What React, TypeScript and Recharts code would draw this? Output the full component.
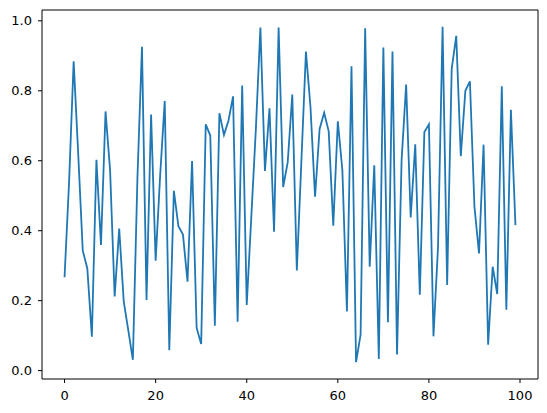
// Random line series (matplotlib default look) redrawn with Recharts
import { Line, LineChart, ReferenceLine, XAxis, YAxis } from "recharts";

const BLUE = "#1f77b4"; // matplotlib tab:blue
const INK = "#000000";
const FONT = "DejaVu Sans";

const values: number[] = [
  0.267, 0.54, 0.884, 0.62, 0.343, 0.292, 0.097, 0.603, 0.359, 0.741,
  0.573, 0.212, 0.406, 0.197, 0.115, 0.031, 0.55, 0.926, 0.202, 0.732,
  0.314, 0.56, 0.771, 0.058, 0.514, 0.413, 0.389, 0.254, 0.599, 0.122,
  0.076, 0.704, 0.672, 0.128, 0.736, 0.674, 0.715, 0.784, 0.14, 0.815,
  0.188, 0.438, 0.689, 0.981, 0.571, 0.75, 0.397, 0.981, 0.525, 0.596,
  0.789, 0.286, 0.599, 0.912, 0.753, 0.497, 0.691, 0.737, 0.684, 0.414,
  0.713, 0.573, 0.169, 0.87, 0.024, 0.103, 0.979, 0.297, 0.587, 0.033,
  0.924, 0.138, 0.912, 0.046, 0.601, 0.818, 0.438, 0.647, 0.217, 0.682,
  0.704, 0.098, 0.354, 0.983, 0.245, 0.862, 0.957, 0.613, 0.8, 0.827,
  0.468, 0.335, 0.646, 0.074, 0.297, 0.219, 0.813, 0.174, 0.746, 0.416,
];
const indices: number[] = values.map((_, i) => i);

const xTicks = [0, 20, 40, 60, 80, 100];
const yTicks = [0, 0.2, 0.4, 0.6, 0.8, 1.0];

// matplotlib-style 5% margins around the data
function padded(lo: number, hi: number): [number, number] {
  const r = hi - lo;
  return [lo - 0.05 * r, hi + 0.05 * r];
}
const xDomain = padded(Math.min(...indices), Math.max(...indices));
const yDomain = padded(Math.min(...values), Math.max(...values));

const data = indices.map((x, i) => ({ x, y: values[i] }));

const tickStyle = { fill: INK, fontSize: 13, fontFamily: FONT };
const axisLine = { stroke: INK, strokeWidth: 1 };

export default function App() {
  return (
    <div style={{ position: "absolute", left: 0, top: 0, background: "#fff" }}>
      <LineChart
        width={547}
        height={413}
        data={data}
        margin={{ top: 10, right: 9, left: 0, bottom: 0 }}
      >
        <XAxis
          dataKey="x"
          type="number"
          domain={xDomain}
          allowDataOverflow
          ticks={xTicks}
          height={34}
          tick={tickStyle}
          tickSize={4}
          tickMargin={8}
          tickLine={{ stroke: INK }}
          axisLine={axisLine}
        />
        <YAxis
          type="number"
          domain={yDomain}
          allowDataOverflow
          ticks={yTicks}
          width={42}
          tick={tickStyle}
          tickSize={4}
          tickMargin={6}
          tickLine={{ stroke: INK }}
          axisLine={axisLine}
          tickFormatter={(v: number) => v.toFixed(1)}
        />
        {/* top and right spines of the matplotlib frame */}
        <ReferenceLine y={yDomain[1]} stroke={INK} strokeWidth={1} ifOverflow="visible" />
        <ReferenceLine x={xDomain[1]} stroke={INK} strokeWidth={1} ifOverflow="visible" />
        <Line
          dataKey="y"
          type="linear"
          stroke={BLUE}
          strokeWidth={1.8}
          dot={false}
          isAnimationActive={false}
        />
      </LineChart>
    </div>
  );
}
